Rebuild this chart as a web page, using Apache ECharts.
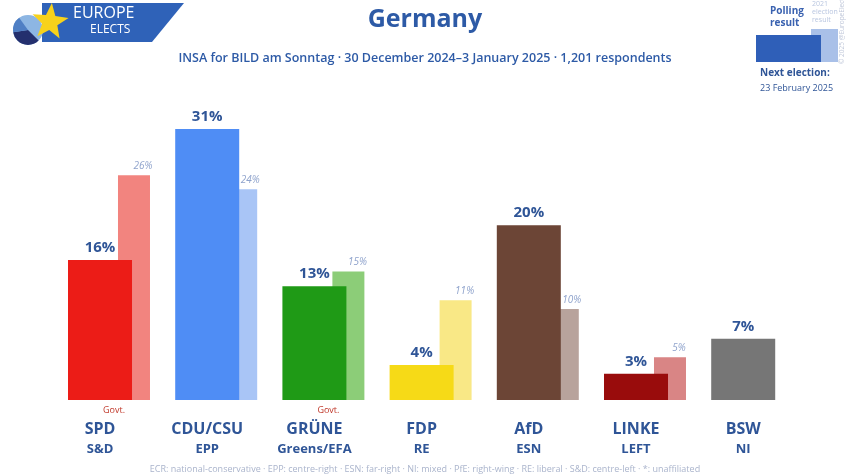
<!DOCTYPE html>
<html><head><meta charset="utf-8">
<script src="https://cdn.jsdelivr.net/npm/echarts@6/dist/echarts.min.js"></script>
<style>html,body{margin:0;padding:0;background:#fff}#c{width:850px;height:476px}</style>
</head><body><div id="c"></div>
<script>
const parties = ['SPD','CDU/CSU','GRÜNE','FDP','AfD','LINKE','BSW'];
const groups = ['S&D','EPP','Greens/EFA','RE','ESN','LEFT','NI'];
const govt = [true,false,true,false,false,false,false];
const polling = [16,31,13,4,20,3,7];
const previous = [25.7,24.1,14.7,11.4,10.4,4.9,null];
const pollColors = ['#ec1c17','#4f8df5','#1f9a16','#f6da17','#6c4536','#990c0c','#767676'];
const prevColors = ['#f2847f','#a9c5f6','#8ccd78','#f9e886','#b8a39c','#d98585','#cccccc'];
const FONT = "'Open Sans', sans-serif";
const BLUE = '#2f5597';

const chart = echarts.init(document.getElementById('c'), null, {renderer:'canvas'});

function starPts(cx, cy, R, r, rot){
  const pts=[];
  for(let i=0;i<10;i++){
    const a = rot + i*Math.PI/5 - Math.PI/2;
    const rr = i%2===0?R:r;
    pts.push([cx+rr*Math.cos(a), cy+rr*Math.sin(a)]);
  }
  return pts;
}

chart.setOption({
  backgroundColor:'#ffffff',
  animation:false,
  title:[
    {text:'Germany', left:'center', top:2, textStyle:{fontFamily:FONT, fontSize:25, fontWeight:'bold', color:'#2d5aa6'}},
    {text:'INSA for BILD am Sonntag · 30 December 2024–3 January 2025 · 1,201 respondents', left:'center', top:47,
      textStyle:{fontFamily:FONT, fontSize:12.5, fontWeight:600, color:'#2d5aa6'}},
    {text:'ECR: national-conservative · EPP: centre-right · ESN: far-right · NI: mixed · PfE: right-wing · RE: liberal · S&D: centre-left · *: unaffiliated',
      left:'center', top:460, textStyle:{fontFamily:FONT, fontSize:9, fontWeight:'normal', color:'#aab4cc'}}
  ],
  grid:{left:55.4, right:850-805.8, top:94, bottom:76, containLabel:false},
  xAxis:{type:'category', data:parties, axisLine:{show:false}, axisTick:{show:false},
    axisLabel:{interval:0, margin:2, padding:[0,18,0,0],
      formatter:(v,i)=>'{g|'+(govt[i]?'Govt.':' ')+'}\n{n|'+v+'}\n{s|'+groups[i]+'}',
      rich:{
        g:{fontFamily:FONT, fontSize:9, color:'#c0392b', lineHeight:16, padding:[0,0,0,28], align:'center'},
        n:{fontFamily:FONT, fontSize:16, fontWeight:'bold', color:BLUE, lineHeight:22, align:'center'},
        s:{fontFamily:FONT, fontSize:13, fontWeight:'bold', color:BLUE, lineHeight:18, align:'center'}
      }}},
  yAxis:{type:'value', min:0, max:35, show:false, splitLine:{show:false}},
  series:[
    {type:'bar', name:'Polling result', barWidth:64, barGap:'-21.9%', z:3,
      data:polling.map((v,i)=>({value:v, itemStyle:{color:pollColors[i]}})),
      label:{show:true, position:'top', distance:5, formatter:p=>p.value+'%',
        fontFamily:FONT, fontSize:15, fontWeight:'bold', color:BLUE}},
    {type:'bar', name:'2021 election result', barWidth:32, z:2,
      data:previous.map((v,i)=>({value:v, itemStyle:{color:prevColors[i]}})),
      label:{show:true, position:'top', distance:4, offset:[9,0], formatter:p=>p.value==null?'':Math.round(p.value)+'%',
        fontFamily:FONT, fontSize:10, fontStyle:'italic', color:'#8fa3cc'}}
  ],
  graphic:[
    // logo
    {type:'polygon', shape:{points:[[42,3],[184,3],[152,42],[42,42]]}, style:{fill:'#2f62b8'}},
    {type:'sector', shape:{cx:28, cy:30, r:15, startAngle:0, endAngle:Math.PI*2}, style:{fill:'#8db6e3'}},
    {type:'sector', shape:{cx:28, cy:30, r:15, startAngle:Math.PI*0.25, endAngle:Math.PI*0.95}, style:{fill:'#24306e'}},
    {type:'sector', shape:{cx:28, cy:30, r:15, startAngle:Math.PI*0.95, endAngle:Math.PI*1.3}, style:{fill:'#4f7fc4'}},
    {type:'polygon', shape:{points:starPts(50,22,19,8,0.1)}, style:{fill:'#f7d21b'}},
    {type:'text', left:73, top:5, style:{text:'EUROPE', fontFamily:FONT, fontSize:16, fill:'#ffffff'}},
    {type:'text', left:90, top:24, style:{text:'ELECTS', fontFamily:FONT, fontSize:12, fill:'#ffffff'}},
    // legend
    {type:'rect', shape:{x:811, y:29, width:27, height:33}, style:{fill:'#a9c0e8'}},
    {type:'rect', shape:{x:756, y:35, width:65, height:27}, style:{fill:'#2f5fb8'}},
    {type:'text', left:770, top:5, style:{text:'Polling\nresult', fontFamily:FONT, fontSize:10, fontWeight:'bold', fill:'#3a62b0', align:'center', lineHeight:12}},
    {type:'text', left:812, top:0, style:{text:'2021\nelection\nresult', fontFamily:FONT, fontSize:7, fill:'#b9c6e0', align:'center', lineHeight:8}},
    {type:'text', left:760, top:68, style:{text:'Next election:', fontFamily:FONT, fontSize:10, fontWeight:'bold', fill:'#2f5597'}},
    {type:'text', left:760, top:84, style:{text:'23 February 2025', fontFamily:FONT, fontSize:9, fill:'#2f5597'}},
    {type:'text', x:839, y:64, rotation:Math.PI/2, style:{text:'© 2025 @EuropeElects', fontFamily:FONT, fontSize:6.5, fill:'#c0c8da'}}
  ]
});
</script></body></html>
